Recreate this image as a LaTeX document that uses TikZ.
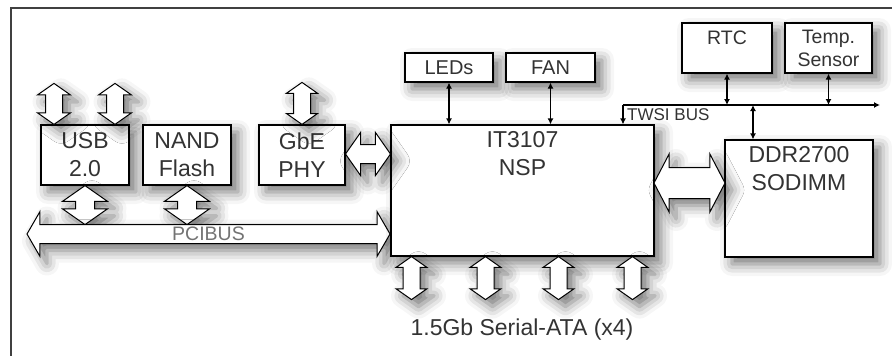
\documentclass[tikz,border=0pt]{standalone}
\usepackage{fontspec}
\setmainfont{Liberation Sans}
\usetikzlibrary{shapes.arrows,arrows.meta,shadows.blur,positioning}
\begin{document}
\begin{tikzpicture}[x=1pt,y=-1pt,
  shd/.style={blur shadow={shadow xshift=7pt,shadow yshift=-7pt,shadow blur radius=12pt,shadow opacity=55}},
  box/.style={draw,line width=1.2pt,fill=white,text=black!80,align=center,inner sep=0pt,shd,
    font=\fontsize{23}{28}\selectfont},
  sbox/.style={box,font=\fontsize{19.5}{23}\selectfont},
  inlbl/.style={anchor=north,align=center,text=black!80,inner sep=7pt},
  dbl/.style={double arrow,draw,line width=1pt,fill=white,inner sep=0pt,minimum width=0pt,
    double arrow tip angle=110,shd},
  vdbl/.style={dbl,rotate=90,inner ysep=8pt,double arrow head extend=8pt},
  sig/.style={line width=1.2pt,{Latex[length=6pt,width=6pt]}-{Latex[length=6pt,width=6pt]}},
  bus/.style={line width=1.2pt,-{Latex[length=6pt,width=6pt]}}]
\useasboundingbox (0,0) rectangle (892,356);
\draw[line width=2pt,black!75] (11,8) rectangle (910,380);
% block arrows
\node[box,minimum width=88pt,minimum height=60pt] (usb) at (85,155) {USB\\2.0};
\path ([xshift=-31pt]usb.north) -- ++(0,-41) node[midway,vdbl,minimum height=41pt] {};
\path ([xshift=30pt]usb.north) -- ++(0,-41) node[midway,vdbl,minimum height=41pt] {};
\node[box,minimum width=88pt,minimum height=60pt] (nand) at (187,155) {NAND\\Flash};
\node[box,minimum width=86pt,minimum height=60pt] (gbe) at (302,155) {GbE\\PHY};
\path (gbe.north) -- ++(0,-42) node[midway,vdbl,inner ysep=8pt,double arrow head extend=7pt,minimum height=42pt] {};
\path (usb.south) -- ++(0,39) node[midway,vdbl,inner ysep=9pt,double arrow head extend=13pt,minimum height=39pt] {};
\path (nand.south) -- ++(0,39) node[midway,vdbl,inner ysep=9pt,double arrow head extend=13pt,minimum height=39pt] {};
\node[dbl,inner ysep=9pt,double arrow head extend=13pt,double arrow tip angle=120,minimum height=363pt] (pci) at (208.5,234) {};
\node[text=black!55,font=\fontsize{19.5}{23}\selectfont] (pcilbl) at (pci) {PCIBUS};
% NSP
\node[box,minimum width=263pt,minimum height=131pt,label={[inlbl,font=\fontsize{23}{28}\selectfont]north:IT3107\\NSP}] (nsp) at (522.5,190.5) {};
\path (gbe.east |- 0,154) -- (nsp.west |- 0,154) node[midway,dbl,inner ysep=9pt,double arrow head extend=12pt,minimum height=45pt] {};
\foreach \dx in {-111,-37,36,110}
  \path ([xshift=\dx pt]nsp.south) -- ++(0,43) node[midway,vdbl,minimum height=43pt,double arrow head extend=7pt] {};
\node[text=black!80,font=\fontsize{23}{28}\selectfont] (sata) at (522,330) {1.5Gb Serial-ATA (x4)};
\node[sbox,font=\fontsize{20}{24}\selectfont,minimum width=88pt,minimum height=29pt] (leds) at (449,67.5) {LEDs};
\node[sbox,font=\fontsize{20}{24}\selectfont,minimum width=89pt,minimum height=29pt] (fan) at (550.5,67.5) {FAN};
\draw[sig] (leds.south) -- (leds.south |- nsp.north);
\draw[sig] (fan.south) -- (fan.south |- nsp.north);
% memory + TWSI
\node[box,minimum width=148pt,minimum height=117pt,label={[inlbl,font=\fontsize{23}{28}\selectfont]north:DDR2700\\SODIMM}] (ddr) at (799,198.5) {};
\path (nsp.east |- 0,183) -- (ddr.west |- 0,183) node[midway,dbl,inner ysep=15pt,double arrow head extend=13.5pt,double arrow tip angle=125,minimum height=71pt] {};
\node[sbox,minimum width=90pt,minimum height=50pt,label={[inlbl,font=\fontsize{19.5}{23}\selectfont,inner sep=8pt]north:RTC}] (rtc) at (727,48) {};
\node[sbox,minimum width=87pt,minimum height=50pt] (temp) at (828.5,48) {Temp.\\Sensor};
\coordinate (twsiL) at (623,105);
\coordinate (twsiR) at (880,105);
\draw[bus] (twsiL) -- (twsiR);
\draw[bus] (twsiL) -- (twsiL |- nsp.north);
\draw[sig] (rtc.south) -- (rtc.south |- twsiL);
\draw[sig] (temp.south) -- (temp.south |- twsiL);
\draw[sig] ([xshift=-46pt]ddr.north |- twsiL) -- ([xshift=-46pt]ddr.north);
\node[anchor=north west,inner sep=1pt,text=black!80,font=\fontsize{17}{20}\selectfont] (twsi) at ([xshift=3pt,yshift=-2pt]twsiL) {TWSI BUS};
\end{tikzpicture}
\end{document}
